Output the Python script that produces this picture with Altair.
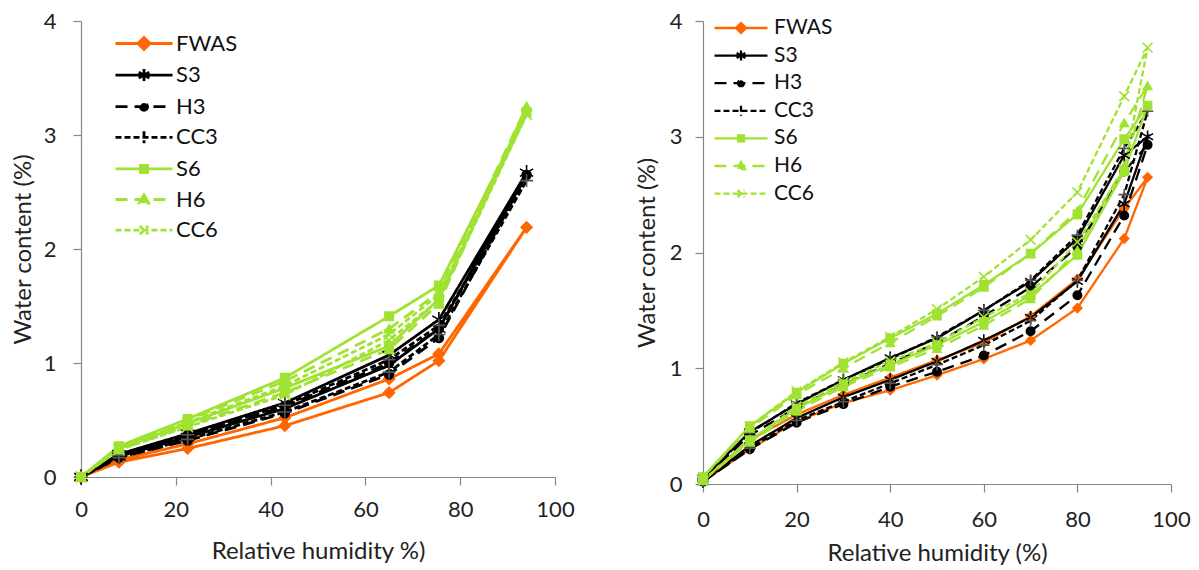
import altair as alt
import pandas as pd

SERIES = ["FWAS", "S3", "H3", "CC3", "S6", "H6", "CC6"]
COLORS = ["#FF6600", "#000000", "#000000", "#000000", "#A0E232", "#A0E232", "#A0E232"]
MARKER_STROKE = ["#FF6600", "#000000", "#000000", "#555555", "#A0E232", "#A0E232", "#A0E232"]
DASHES = [[1, 0], [1, 0], [12, 7], [6, 3], [1, 0], [12, 7], [6, 3]]
X_TICKS = [0, 20, 40, 60, 80, 100]
Y_TICKS = [0, 1, 2, 3, 4]

# ---- left panel (adsorption then desorption) ----
L_X_ADS = [0, 8, 22.5, 43, 65, 75.5, 94]
L_X_DES = [75.5, 65, 43, 22.5, 8, 0]
L_FWAS_ADS = [0, 0.13, 0.25, 0.45, 0.74, 1.02, 2.19]
L_FWAS_DES = [1.08, 0.86, 0.52, 0.29, 0.15, 0]
L_S3_ADS = [0, 0.18, 0.35, 0.60, 0.98, 1.30, 2.67]
L_S3_DES = [1.38, 1.07, 0.65, 0.38, 0.20, 0]
L_H3_ADS = [0, 0.17, 0.32, 0.56, 0.90, 1.22, 2.65]
L_H3_DES = [1.30, 1.00, 0.62, 0.37, 0.19, 0]
L_CC3_ADS = [0, 0.17, 0.33, 0.57, 0.92, 1.25, 2.60]
L_CC3_DES = [1.33, 1.03, 0.63, 0.37, 0.19, 0]
L_S6_ADS = [0, 0.25, 0.47, 0.78, 1.15, 1.56, 3.20]
L_S6_DES = [1.68, 1.41, 0.87, 0.51, 0.27, 0]
L_H6_ADS = [0, 0.24, 0.45, 0.74, 1.12, 1.52, 3.25]
L_H6_DES = [1.62, 1.30, 0.84, 0.50, 0.26, 0]
L_CC6_ADS = [0, 0.24, 0.44, 0.72, 1.20, 1.55, 3.18]
L_CC6_DES = [1.60, 1.25, 0.80, 0.48, 0.25, 0]

# ---- right panel (adsorption then desorption) ----
R_X_ADS = [0, 10, 20, 30, 40, 50, 60, 70, 80, 90, 95]
R_X_DES = [90, 80, 70, 60, 50, 40, 30, 20, 10, 0]
R_FWAS_ADS = [0.02, 0.30, 0.54, 0.70, 0.81, 0.94, 1.08, 1.24, 1.52, 2.12, 2.65]
R_FWAS_DES = [2.38, 1.77, 1.45, 1.22, 1.07, 0.92, 0.77, 0.60, 0.38, 0.04]
R_S3_ADS = [0.02, 0.33, 0.57, 0.75, 0.90, 1.06, 1.24, 1.44, 1.75, 2.42, 3.00]
R_S3_DES = [2.84, 2.12, 1.75, 1.50, 1.26, 1.09, 0.90, 0.69, 0.45, 0.05]
R_H3_ADS = [0.02, 0.30, 0.53, 0.69, 0.84, 0.97, 1.11, 1.32, 1.63, 2.32, 2.93]
R_H3_DES = [2.70, 2.05, 1.70, 1.45, 1.22, 1.04, 0.86, 0.66, 0.42, 0.05]
R_CC3_ADS = [0.02, 0.31, 0.55, 0.71, 0.87, 1.03, 1.20, 1.41, 1.76, 2.50, 3.22]
R_CC3_DES = [2.90, 2.15, 1.76, 1.50, 1.27, 1.08, 0.90, 0.70, 0.44, 0.05]
R_S6_ADS = [0.03, 0.38, 0.65, 0.86, 1.03, 1.20, 1.40, 1.63, 1.98, 2.70, 3.27]
R_S6_DES = [2.98, 2.33, 1.99, 1.72, 1.47, 1.26, 1.04, 0.79, 0.50, 0.06]
R_H6_ADS = [0.03, 0.36, 0.63, 0.84, 1.01, 1.17, 1.37, 1.60, 2.02, 2.75, 3.44]
R_H6_DES = [3.12, 2.36, 1.99, 1.70, 1.45, 1.22, 1.00, 0.77, 0.48, 0.06]
R_CC6_ADS = [0.03, 0.37, 0.67, 0.88, 1.06, 1.22, 1.44, 1.65, 2.09, 2.72, 3.77]
R_CC6_DES = [3.35, 2.52, 2.11, 1.79, 1.51, 1.27, 1.05, 0.80, 0.50, 0.06]

LEFT = {
    "FWAS": (L_FWAS_ADS, L_FWAS_DES), "S3": (L_S3_ADS, L_S3_DES),
    "H3": (L_H3_ADS, L_H3_DES), "CC3": (L_CC3_ADS, L_CC3_DES),
    "S6": (L_S6_ADS, L_S6_DES), "H6": (L_H6_ADS, L_H6_DES),
    "CC6": (L_CC6_ADS, L_CC6_DES),
}
RIGHT = {
    "FWAS": (R_FWAS_ADS, R_FWAS_DES), "S3": (R_S3_ADS, R_S3_DES),
    "H3": (R_H3_ADS, R_H3_DES), "CC3": (R_CC3_ADS, R_CC3_DES),
    "S6": (R_S6_ADS, R_S6_DES), "H6": (R_H6_ADS, R_H6_DES),
    "CC6": (R_CC6_ADS, R_CC6_DES),
}


def build(table, xa, xd):
    rows = []
    for s in SERIES:
        ads, des = table[s]
        xs = xa + xd
        ys = ads + des
        for i, (x, y) in enumerate(zip(xs, ys)):
            rows.append({"series": s, "x": x, "y": y, "idx": i})
    return pd.DataFrame(rows)


AST = "M0,-1L0,1M-0.87,-0.5L0.87,0.5M-0.87,0.5L0.87,-0.5"
PLUS = "M-1,0L1,0M0,-1L0,1"
XMARK = "M-0.8,-0.8L0.8,0.8M-0.8,0.8L0.8,-0.8"
POINT_SHAPES = ["diamond", AST, "circle", PLUS, "square", "triangle-up", XMARK]


def legend_paths(box, length, radius):
    """Legend glyph: a line of `length` px ending at the right edge of a
    `box` px symbol, with the series marker in the middle of the line."""
    h = box / 2.0
    x0 = 1 - length / h
    c = (x0 + 1) / 2
    m = radius / h
    f = lambda v: f"{v:.3f}"
    a = f"M{f(x0)},0L1,0"
    return {
        "FWAS": f"{a}M{f(c)},{f(-m)}L{f(c+m)},0L{f(c)},{f(m)}L{f(c-m)},0Z",
        "S3": f"{a}M{f(c)},{f(-m)}L{f(c)},{f(m)}M{f(c-.87*m)},{f(-.5*m)}L{f(c+.87*m)},{f(.5*m)}"
              f"M{f(c-.87*m)},{f(.5*m)}L{f(c+.87*m)},{f(-.5*m)}",
        "H3": f"{a}M{f(c+.6*m)},0A{f(.6*m)},{f(.6*m)},0,1,1,{f(c-.6*m)},0A{f(.6*m)},{f(.6*m)},0,1,1,{f(c+.6*m)},0Z",
        "CC3": f"{a}M{f(c)},{f(-m)}L{f(c)},{f(m)}",
        "S6": f"{a}M{f(c-.6*m)},{f(-.6*m)}L{f(c+.6*m)},{f(-.6*m)}L{f(c+.6*m)},{f(.6*m)}L{f(c-.6*m)},{f(.6*m)}Z",
        "H6": f"{a}M{f(c)},{f(-.8*m)}L{f(c+.8*m)},{f(.6*m)}L{f(c-.8*m)},{f(.6*m)}Z",
        "CC6": f"{a}M{f(c-.7*m)},{f(-.7*m)}L{f(c+.7*m)},{f(.7*m)}M{f(c-.7*m)},{f(.7*m)}L{f(c+.7*m)},{f(-.7*m)}",
    }


def shape_expr(box, length, radius):
    p = legend_paths(box, length, radius)
    expr = "'stroke'"
    for s in reversed(SERIES):
        expr = f"datum.value == '{s}' ? '{p[s]}' : ({expr})"
    return expr


FILLED = {"FWAS": "#FF6600", "H3": "#000000", "S6": "#A0E232", "H6": "#A0E232"}
FILL_EXPR = "'transparent'"
for s, c in FILLED.items():
    FILL_EXPR = f"datum.value == '{s}' ? '{c}' : ({FILL_EXPR})"


def panel(df, w, h, xtitle, lx, ly, box, line_len, radius, leg_font, row_pad, lab_off,
          lab_pad_x, title_pad_x, lab_pad_y, title_pad_y, sw, sizes):
    leg = alt.Legend(
        title=None, orient="none", legendX=lx, legendY=ly, padding=0,
        symbolSize=box * box, symbolStrokeWidth=sw,
        labelFont="Lato", labelFontSize=leg_font, labelColor="#111111",
        labelOffset=lab_off, rowPadding=row_pad,
        symbolType={"expr": shape_expr(box, line_len, radius)},
        symbolFillColor={"expr": FILL_EXPR},
    )
    xs = alt.Scale(domain=[0, 100], nice=False)
    ys = alt.Scale(domain=[0, 4], nice=False)
    xax = alt.Axis(values=X_TICKS, title=xtitle, labelPadding=lab_pad_x, titlePadding=title_pad_x)
    yax = alt.Axis(values=Y_TICKS, format="d", title="Water content (%)",
                   labelPadding=lab_pad_y, titlePadding=title_pad_y)
    base = alt.Chart(df)
    lines = base.mark_line(strokeWidth=sw).encode(
        x=alt.X("x:Q", scale=xs, axis=xax),
        y=alt.Y("y:Q", scale=ys, axis=yax),
        color=alt.Color("series:N", scale=alt.Scale(domain=SERIES, range=COLORS), legend=leg, sort=SERIES),
        strokeDash=alt.StrokeDash("series:N", scale=alt.Scale(domain=SERIES, range=DASHES), legend=leg, sort=SERIES),
        order=alt.Order("idx:Q"),
    )
    layers = [lines]
    for s, shp, sz, fc, sc in zip(SERIES, POINT_SHAPES, sizes, COLORS, MARKER_STROKE):
        layers.append(
            base.transform_filter(alt.datum.series == s)
            .mark_point(shape=shp, size=sz, filled=True, fill=fc, stroke=sc,
                        strokeWidth=1.6, opacity=1)
            .encode(x=alt.X("x:Q", scale=xs), y=alt.Y("y:Q", scale=ys))
        )
    return alt.layer(*layers).properties(width=w, height=h)


left = panel(build(LEFT, L_X_ADS, L_X_DES), 474, 456, "Relative humidity %)",
             lx=68, ly=10, box=22, line_len=57, radius=6, leg_font=22, row_pad=6.6, lab_off=2,
             lab_pad_x=14, title_pad_x=19, lab_pad_y=17, title_pad_y=8, sw=2.8,
             sizes=[120, 230, 80, 170, 70, 90, 180])
right = panel(build(RIGHT, R_X_ADS, R_X_DES), 468, 463, "Relative humidity (%)",
              lx=42, ly=-5, box=21, line_len=53, radius=5, leg_font=21, row_pad=5.6, lab_off=5,
              lab_pad_x=17, title_pad_x=11, lab_pad_y=13, title_pad_y=10, sw=2.3,
              sizes=[80, 160, 70, 130, 65, 70, 150])

chart = alt.hconcat(left, right, spacing=59).resolve_scale(
    color="independent", strokeDash="independent",
).resolve_legend(color="independent", strokeDash="independent").properties(
    padding={"left": 2, "top": 1, "right": 0, "bottom": 0}
).configure_view(stroke="transparent").configure_axis(
    grid=False, domainColor="#868686", tickColor="#868686", tickSize=8,
    domainWidth=1.2, tickWidth=1.2,
    labelFont="Lato", labelFontSize=22, labelColor="#222222", labelFlush=False,
    titleFont="Lato", titleFontSize=24, titleFontWeight="normal", titleColor="#222222",
)

chart.save("out.html", embed_options={"renderer": "svg", "actions": False})
